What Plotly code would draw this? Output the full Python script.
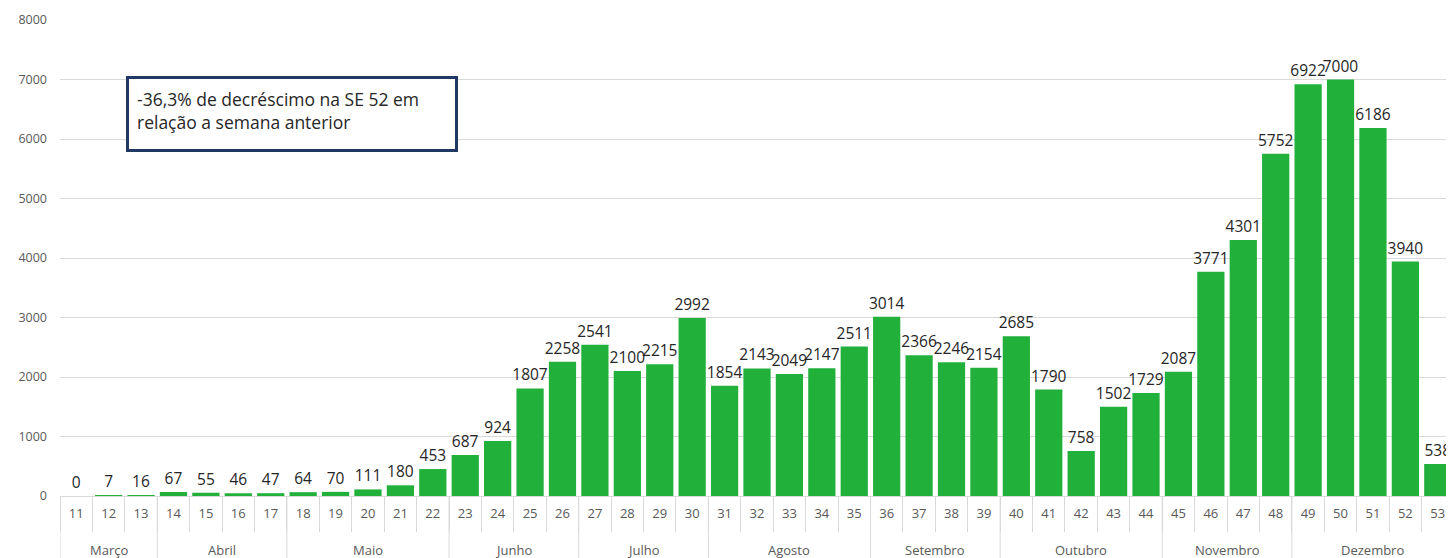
import plotly.graph_objects as go

weeks = [str(w) for w in range(11, 54)]
month_names = ["Março", "Abril", "Maio", "Junho", "Julho", "Agosto",
               "Setembro", "Outubro", "Novembro", "Dezembro"]
weeks_per_month = [3, 4, 5, 4, 4, 5, 4, 5, 4, 5]
cases = [0, 7, 16, 67, 55, 46, 47, 64, 70, 111, 180, 453, 687, 924, 1807, 2258,
         2541, 2100, 2215, 2992, 1854, 2143, 2049, 2147, 2511, 3014, 2366, 2246,
         2154, 2685, 1790, 758, 1502, 1729, 2087, 3771, 4301, 5752, 6922, 7000,
         6186, 3940, 538]
note_text = "-36,3% de decréscimo na SE 52 em<br>relação a semana anterior"

W, H = 1446, 550
L, R, T, B = 52, 0, 12, 62
plot_h = H - T - B
plot_w = W - L - R
grey = "#595959"
line_c = "#d9d9d9"

fig = go.Figure(go.Bar(
    x=weeks, y=cases,
    marker=dict(color="#21b03a", line=dict(width=0)),
    text=[str(v) for v in cases], textposition="outside",
    textfont=dict(family="Open Sans", size=15.5, color="#262626"),
    cliponaxis=False,
))

fig.update_layout(
    width=W, height=H,
    margin=dict(l=L, r=R, t=T, b=B),
    paper_bgcolor="white", plot_bgcolor="white",
    bargap=0.16, showlegend=False,
    uniformtext=dict(minsize=15.5, mode="show"),
    font=dict(family="Open Sans", color=grey, size=13),
)
fig.update_yaxes(range=[0, 8000], dtick=1000, showgrid=True, gridcolor=line_c,
                 gridwidth=1, zeroline=False, showline=False, ticks="",
                 tickfont=dict(size=12.5, color=grey), ticklabelstandoff=12)
fig.update_xaxes(type="category", showline=True, linecolor=line_c,
                 ticks="outside", tickson="boundaries", ticklen=35, tickcolor=line_c,
                 tickfont=dict(size=13, color=grey), range=[-0.5, 42.5],
                 ticklabelstandoff=5)

# month group labels and dividers
start = 0
bottom = -B / plot_h
for name, n in zip(month_names, weeks_per_month):
    fig.add_shape(type="line", xref="x", yref="paper", x0=start - 0.5, x1=start - 0.5,
                  y0=0, y1=bottom, line=dict(color=line_c, width=1))
    center = start + (n - 1) / 2
    fig.add_annotation(xref="x", yref="paper", x=center, y=-54 / plot_h,
                       text=name, showarrow=False, yanchor="middle",
                       font=dict(size=13, color=grey))
    start += n

fig.add_annotation(
    xref="paper", yref="paper", x=(126 - 60) / plot_w, y=(496 - 76) / plot_h,
    xanchor="left", yanchor="top", text=note_text, align="left", showarrow=False,
    font=dict(family="Open Sans", size=17.5, color="#262626"),
    bordercolor="#1f3864", borderwidth=3, borderpad=8, bgcolor="white",
    width=310, height=54, valign="top",
)

fig.write_html("out.html")
